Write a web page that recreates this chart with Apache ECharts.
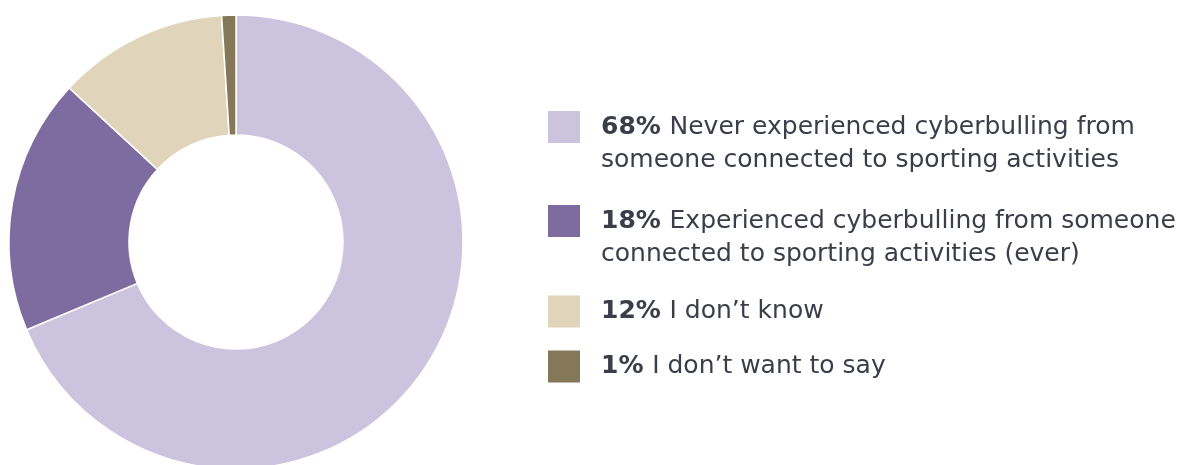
<!DOCTYPE html>
<html><head><meta charset="utf-8">
<script src="https://cdn.jsdelivr.net/npm/echarts@6/dist/echarts.min.js"></script>
<style>html,body{margin:0;padding:0;background:#fff}#c{width:1201px;height:465px}</style>
</head><body><div id="c"></div>
<script>
const categories = [
  "Never experienced cyberbulling from\nsomeone connected to sporting activities",
  "Experienced cyberbulling from someone\nconnected to sporting activities (ever)",
  "I don’t know",
  "I don’t want to say"
];
const values = [68, 18, 12, 1];
const colors = ["#CCC4DF", "#7E6B9F", "#E0D4BA", "#857858"];
const legendTops = [81.5, 175.5, 295.5, 350.5];

const chart = echarts.init(document.getElementById('c'));
const font = "'DejaVu Sans', sans-serif";
const legends = categories.map((name, i) => ({
  orient: 'vertical',
  left: 548,
  top: legendTops[i],
  padding: 0,
  itemWidth: 32,
  itemHeight: 32,
  itemGap: 0,
  icon: 'rect',
  itemStyle: { borderWidth: 0 },
  data: [name],
  selectedMode: false,
  formatter: function (n) {
    const idx = categories.indexOf(n);
    const lines = n.split('\n');
    const first = '{b|' + values[idx] + '% }{t|' + lines[0] + '}';
    if (lines.length > 1) return '{t| }\n' + first + '\n{t|' + lines[1] + '}';
    return first;
  },
  textStyle: {
    padding: [0, 0, 0, 16],
    rich: {
      b: { fontFamily: font, fontSize: 25, fontWeight: 'bold', color: '#3b3d4a', lineHeight: 33 },
      t: { fontFamily: font, fontSize: 25, color: '#3b3d4a', lineHeight: 33 }
    }
  }
}));

chart.setOption({
  animation: false,
  color: colors,
  legend: legends,
  series: [{
    type: 'pie',
    center: [236, 242],
    radius: [107, 227],
    startAngle: 90,
    clockwise: true,
    label: { show: false },
    labelLine: { show: false },
    itemStyle: { borderColor: '#fff', borderWidth: 1.5 },
    data: categories.map((n, i) => ({ name: n, value: values[i] }))
  }]
});
</script></body></html>
